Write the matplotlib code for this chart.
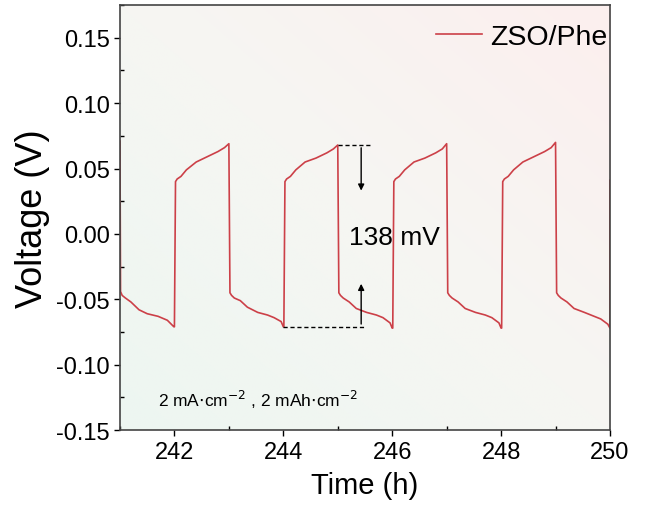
import numpy as np
import matplotlib.pyplot as plt
from matplotlib.colors import LinearSegmentedColormap
from matplotlib.ticker import MultipleLocator

plt.rcParams.update({"font.family": ["Liberation Sans", "DejaVu Sans"]})

# 讀圖估計的電壓曲線 (h, V)
time_h = [241.00, 241.01, 241.04, 241.10, 241.20, 241.35, 241.50, 241.70, 241.87, 241.99,
          242.00, 242.02, 242.05, 242.12, 242.22, 242.40, 242.60, 242.80, 242.92, 243.00,
          243.02, 243.05, 243.10, 243.21, 243.34, 243.53, 243.71, 243.83, 243.96, 244.00,
          244.01, 244.03, 244.06, 244.13, 244.23, 244.40, 244.60, 244.80, 244.92, 245.00,
          245.02, 245.05, 245.10, 245.21, 245.34, 245.53, 245.71, 245.83, 245.96, 246.00,
          246.01, 246.03, 246.06, 246.13, 246.23, 246.40, 246.60, 246.80, 246.92, 247.00,
          247.02, 247.05, 247.10, 247.21, 247.34, 247.53, 247.71, 247.83, 247.96, 248.00,
          248.01, 248.03, 248.06, 248.13, 248.23, 248.40, 248.60, 248.80, 248.92, 249.00,
          249.02, 249.05, 249.10, 249.21, 249.34, 249.53, 249.71, 249.83, 249.96, 250.00,
          250.00]
voltage = [0.071, -0.044, -0.047, -0.049, -0.052, -0.058, -0.061, -0.063, -0.066, -0.071,
           -0.071, 0.040, 0.042, 0.044, 0.049, 0.055, 0.059, 0.063, 0.066, 0.069,
           -0.045, -0.047, -0.049, -0.051, -0.056, -0.060, -0.062, -0.064, -0.067, -0.071,
           -0.071, 0.040, 0.042, 0.044, 0.049, 0.055, 0.058, 0.062, 0.065, 0.068,
           -0.045, -0.047, -0.049, -0.052, -0.057, -0.060, -0.062, -0.064, -0.068, -0.072,
           -0.072, 0.040, 0.042, 0.044, 0.049, 0.055, 0.058, 0.062, 0.065, 0.069,
           -0.045, -0.047, -0.049, -0.052, -0.057, -0.060, -0.062, -0.064, -0.068, -0.072,
           -0.072, 0.040, 0.042, 0.044, 0.049, 0.055, 0.059, 0.063, 0.066, 0.070,
           -0.045, -0.047, -0.049, -0.052, -0.057, -0.060, -0.063, -0.065, -0.069, -0.072,
           0.041]

series_label = "ZSO/Phe"
v_top = 0.068
v_bottom = -0.071
gap_label = "138 mV"
condition_label = r"2 mA$\cdot$cm$^{-2}$ , 2 mAh$\cdot$cm$^{-2}$"

#%%
fig = plt.figure(figsize=(6.51, 5.06), dpi=100)
ax = fig.add_axes([0.1843, 0.148, 0.7527, 0.840])

# 背景漸層：左下淡綠，右上淡粉
grad_cmap = LinearSegmentedColormap.from_list("bg", ["#edf6f1", "#f6f6f3", "#fcefee"])
gx, gy = np.meshgrid(np.linspace(0, 1, 200), np.linspace(0, 1, 200))
ax.imshow((gx + gy) / 2, cmap=grad_cmap, origin="lower", extent=[0, 1, 0, 1],
          transform=ax.transAxes, aspect="auto", zorder=0)

ax.plot(time_h, voltage, color="#cc4048", linewidth=1.2, label=series_label, zorder=2)

# 138 mV 標註
ax.plot([244.0, 245.52], [v_bottom, v_bottom], color="black", linestyle="--",
        linewidth=1.0, dashes=(3, 2))
ax.plot([245.0, 245.6], [v_top, v_top], color="black", linestyle="--",
        linewidth=1.0, dashes=(3, 2))
ax.annotate("", xy=(245.43, 0.031), xytext=(245.43, v_top),
            arrowprops=dict(arrowstyle="-|>", color="black", lw=1.0, mutation_scale=9))
ax.annotate("", xy=(245.43, -0.036), xytext=(245.43, v_bottom),
            arrowprops=dict(arrowstyle="-|>", color="black", lw=1.0, mutation_scale=9))
ax.text(246.05, -0.002, gap_label, fontsize=19, ha="center", va="center")
ax.text(241.7, -0.126, condition_label, fontsize=12.5, ha="left", va="center")

ax.set_xlim(241, 250)
ax.set_ylim(-0.15, 0.175)
ax.set_xticks([242, 244, 246, 248, 250])
ax.set_yticks([-0.15, -0.10, -0.05, 0.00, 0.05, 0.10, 0.15])
ax.set_yticklabels(["-0.15", "-0.10", "-0.05", "0.00", "0.05", "0.10", "0.15"])
ax.xaxis.set_minor_locator(MultipleLocator(1))
ax.yaxis.set_minor_locator(MultipleLocator(0.025))
ax.tick_params(which="major", direction="out", length=4, width=1, labelsize=17)
ax.tick_params(which="minor", direction="in", length=3, width=1)
for s in ax.spines.values():
    s.set_linewidth(1.2)
    s.set_color("#444444")

ax.set_xlabel("Time (h)", fontsize=21, labelpad=6)
ax.set_ylabel("Voltage (V)", fontsize=26, labelpad=4)

ax.legend(loc="upper right", bbox_to_anchor=(1.012, 0.975), frameon=False,
          fontsize=20.5, handlelength=1.6, handletextpad=0.3,
          borderaxespad=0.0, borderpad=0.3)

plt.savefig("out.png", dpi=100)
